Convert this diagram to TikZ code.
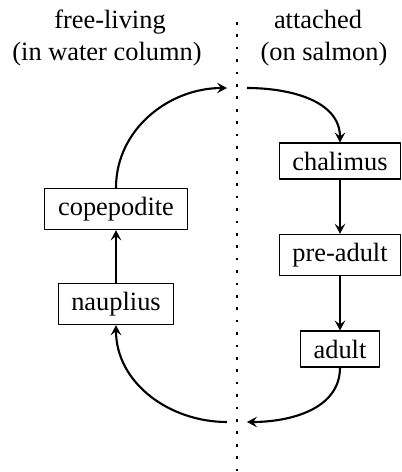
\documentclass[tikz,border=0pt]{standalone}
\usepackage{fontspec}
\setmainfont{Liberation Serif}
\usetikzlibrary{arrows.meta}
\tikzset{
  stage/.style={draw,line width=0.4pt,inner xsep=5pt,inner ysep=3.3pt},
  flow/.style={line width=0.8pt,-{Stealth[length=3.8pt,width=4pt,inset=1.5pt]}},
  border/.style={line width=1pt,dash pattern=on 1pt off 3.7pt}
}
\begin{document}
\begin{tikzpicture}[line join=round,x=0.3788pt,y=-0.3788pt]
\useasboundingbox (0,0) rectangle (402,472);
\path
(237,22) coordinate (T)
(237,474) coordinate (B)
(227,88) coordinate (A1)
(247,88) coordinate (A2)
(247,422) coordinate (D1)
(227,422) coordinate (D2)
;
\draw[border] (T)--(B);
% headings
\node[anchor=base] (free) at (110,28) {free-living};
\node[anchor=base] (water) at (107,60) {(in water column)};
\node[anchor=base] (att) at (318,28) {attached};
\node[anchor=base] (salmon) at (324,60) {(on salmon)};
% stages
\node[stage] (cop) at (116,209) {copepodite};
\node[stage] (naup) at (116,304) {nauplius};
\node[stage] (chal) at (340,161) {chalimus};
\node[stage] (pre) at (340,255) {pre-adult};
\node[stage] (adult) at (340,349) {adult};
\draw[flow] (naup)--(cop);
\draw[flow] (chal)--(pre);
\draw[flow] (pre)--(adult);
\draw[flow] (cop.north) to[out=90,in=180] (A1);
\draw[flow] (A2) to[out=0,in=90] (chal.north);
\draw[flow] (adult.south) to[out=-90,in=0] (D1);
\draw[flow] (D2) to[out=180,in=-90] (naup.south);
\end{tikzpicture}
\end{document}
